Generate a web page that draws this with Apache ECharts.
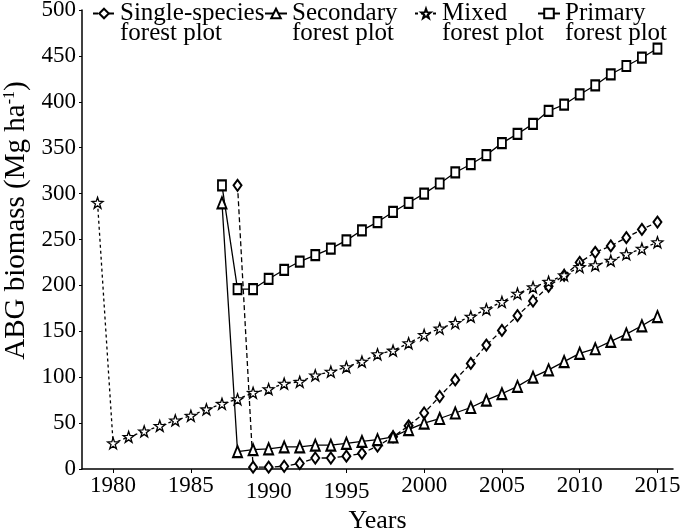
<!DOCTYPE html>
<html>
<head>
<meta charset="utf-8">
<script src="https://cdn.jsdelivr.net/npm/echarts@6/dist/echarts.min.js"></script>
<style>
  html, body { margin: 0; padding: 0; background: #fff; }
  #chart { width: 685px; height: 530px; }
</style>
</head>
<body>
<div id="chart"></div>
<script>
// values (ABG biomass, Mg ha-1)
const singleYears = [1988, 1989, 1990, 1991, 1992, 1993, 1994, 1995, 1996, 1997, 1998, 1999, 2000, 2001,
  2002, 2003, 2004, 2005, 2006, 2007, 2008, 2009, 2010, 2011, 2012, 2013, 2014, 2015]
const singleValues = [309, 2, 2, 3, 6, 12, 12, 14, 17, 25, 35, 47, 61, 79,
  97, 115, 135, 151, 167, 183, 199, 211, 225, 236, 243, 252, 261, 269]

const secondaryYears = [1987, 1988, 1989, 1990, 1991, 1992, 1993, 1994, 1995, 1996, 1997, 1998, 1999, 2000, 2001,
  2002, 2003, 2004, 2005, 2006, 2007, 2008, 2009, 2010, 2011, 2012, 2013, 2014, 2015]
const secondaryValues = [290, 19, 21, 22, 24, 24, 26, 26, 28, 30, 32, 35, 43, 50, 55,
  61, 67, 75, 82, 90, 100, 108, 117, 126, 131, 139, 147, 156, 166]

const mixedYears = [1979, 1980, 1981, 1982, 1983, 1984, 1985, 1986, 1987, 1988, 1989, 1990, 1991, 1992, 1993,
  1994, 1995, 1996, 1997, 1998, 1999, 2000, 2001, 2002, 2003, 2004, 2005, 2006, 2007, 2008, 2009,
  2010, 2011, 2012, 2013, 2014, 2015]
const mixedValues = [290, 28, 35, 41, 47, 53, 58, 65, 71, 76, 83, 87, 93, 95, 102,
  106, 111, 117, 125, 129, 137, 146, 153, 159, 166, 174, 182, 191, 198, 204, 211,
  220, 222, 227, 234, 240, 247]

const primaryYears = [1987, 1988, 1989, 1990, 1991, 1992, 1993, 1994, 1995, 1996, 1997, 1998, 1999, 2000, 2001,
  2002, 2003, 2004, 2005, 2006, 2007, 2008, 2009, 2010, 2011, 2012, 2013, 2014, 2015]
const primaryValues = [309, 196, 196, 207, 217, 226, 233, 240, 249, 260, 269, 280, 290, 300, 311,
  323, 332, 342, 355, 365, 376, 390, 397, 408, 418, 430, 439, 448, 458]

const seriesNames = ['Single-species\nforest plot', 'Secondary\nforest plot', 'Mixed\nforest plot', 'Primary\nforest plot']
const yearTicks = [1980, 1985, 1990, 1995, 2000, 2005, 2010, 2015]

const FONT = "'Liberation Serif', 'Times New Roman', serif"
const STAR = 'path://M12,0 L14.8,8.6 L24,9.2 L16.6,14.8 L19.4,24 L12,18.6 L4.6,24 L7.4,14.8 L0,9.2 L9.2,8.6 Z'

const pairs = (xs, ys) => xs.map((x, i) => [x, ys[i]])

const chart = echarts.init(document.getElementById('chart'), null, { renderer: 'canvas' })

// one legend per entry so each can sit where the original put it;
// a blank first line keeps the icon level with the first text line
const legendLeft = [92, 264, 414, 537]
const legends = seriesNames.map((name, i) => ({
  data: [name],
  left: legendLeft[i],
  top: -19,
  padding: 0,
  itemWidth: 22,
  itemHeight: 12,
  selectedMode: false,
  formatter: (n) => '\n' + n,
  textStyle: {
    fontFamily: FONT,
    fontSize: 25,
    lineHeight: 20,
    color: '#000',
  },
}))

function lineSeries(name, data, symbol, symbolSize, dash, filled) {
  return {
    name,
    type: 'line',
    data,
    symbol,
    symbolSize,
    showSymbol: true,
    z: 3,
    lineStyle: { color: '#000', width: 1.3, type: dash },
    itemStyle: filled
      ? { color: '#fff', borderColor: '#000', borderWidth: 1.3 }
      : { color: '#000', borderWidth: 1.3 },
    emphasis: { disabled: true },
  }
}

chart.setOption({
  animation: false,
  legend: legends,
  grid: { left: 82, right: 12, top: 10, bottom: 61, outerBoundsMode: 'none', containLabel: false },
  xAxis: {
    type: 'value',
    min: 1978,
    max: 2016,
    name: 'Years',
    nameLocation: 'middle',
    nameGap: 32,
    nameTextStyle: { fontFamily: FONT, fontSize: 26, color: '#000' },
    axisLine: { lineStyle: { color: '#000', width: 1.5 } },
    axisTick: { show: true, customValues: yearTicks, length: 4, lineStyle: { color: '#000' } },
    axisLabel: {
      customValues: yearTicks,
      fontFamily: FONT,
      fontSize: 23,
      color: '#000',
      margin: 5,
      formatter: (v) => (v === 1990 || v === 1995) ? '{low|' + v + '}' : String(v),
      rich: { low: { fontFamily: FONT, fontSize: 23, color: '#000', padding: [6, 0, 0, 0] } },
    },
    splitLine: { show: false },
  },
  yAxis: {
    type: 'value',
    min: 0,
    max: 500,
    interval: 50,
    name: 'ABG biomass (Mg ha{sup|-1})',
    nameLocation: 'middle',
    nameGap: 50,
    nameTextStyle: {
      fontFamily: FONT,
      fontSize: 29,
      color: '#000',
      padding: [0, 0, 0, 38],
      rich: { sup: { fontFamily: FONT, fontSize: 16, color: '#000', verticalAlign: 'top', lineHeight: 29 } },
    },
    axisLine: { show: true, lineStyle: { color: '#000', width: 1.5 } },
    axisTick: { show: true, length: 3, lineStyle: { color: '#000' } },
    axisLabel: { fontFamily: FONT, fontSize: 23, color: '#000', margin: 6 },
    splitLine: { show: false },
  },
  series: [
    lineSeries(seriesNames[0], pairs(singleYears, singleValues), 'emptyDiamond', [8, 11], [5, 3], false),
    lineSeries(seriesNames[1], pairs(secondaryYears, secondaryValues), 'emptyTriangle', [9, 11], 'solid', false),
    lineSeries(seriesNames[2], pairs(mixedYears, mixedValues), STAR, 11, [3, 3], true),
    lineSeries(seriesNames[3], pairs(primaryYears, primaryValues), 'emptyRect', [8, 10], 'solid', false),
  ],
})
</script>
</body>
</html>
